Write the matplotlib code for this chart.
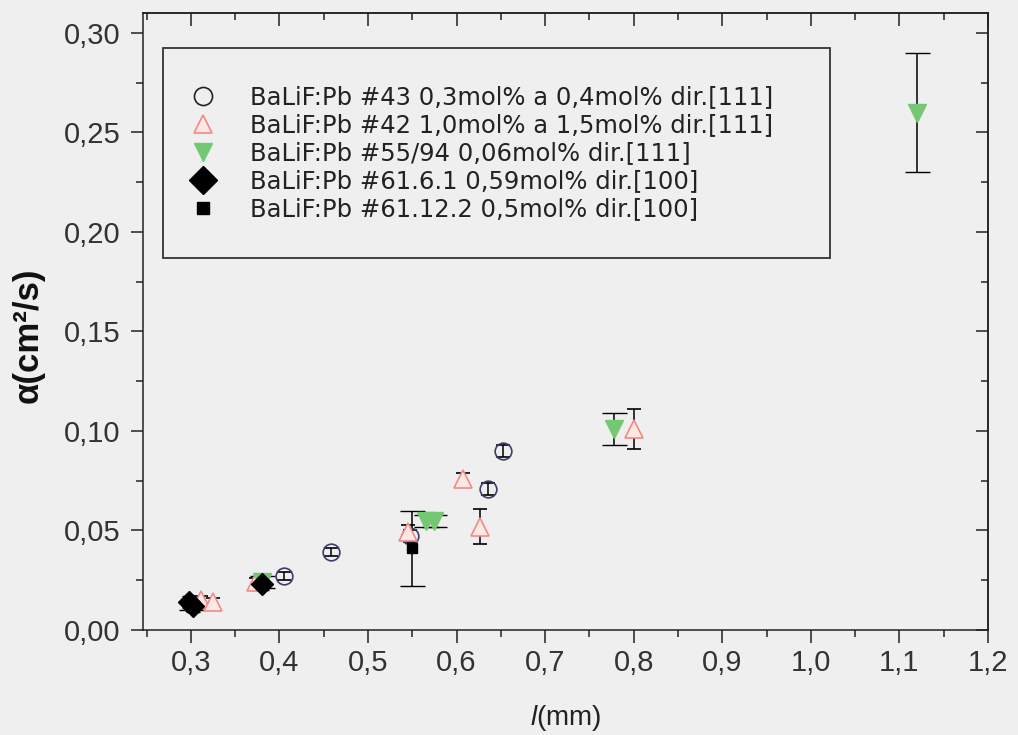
import numpy as np
import matplotlib
matplotlib.use("Agg")
from matplotlib import pyplot as plt
from matplotlib.lines import Line2D
from matplotlib.patches import Rectangle
from matplotlib.ticker import MultipleLocator, FuncFormatter

# Series: thickness l (mm) vs diffusivity alpha (cm2/s)
labels = ["BaLiF:Pb #43 0,3mol% a 0,4mol% dir.[111]",
          "BaLiF:Pb #42 1,0mol% a 1,5mol% dir.[111]",
          "BaLiF:Pb #55/94 0,06mol% dir.[111]",
          "BaLiF:Pb #61.6.1 0,59mol% dir.[100]",
          "BaLiF:Pb #61.12.2 0,5mol% dir.[100]"]

x43 = [0.300, 0.405, 0.458, 0.548, 0.635, 0.652]
y43 = [0.013, 0.027, 0.039, 0.047, 0.071, 0.090]
e43 = [0.002, 0.002, 0.002, 0.003, 0.003, 0.003]

x42 = [0.312, 0.325, 0.374, 0.545, 0.607, 0.627, 0.800]
y42 = [0.015, 0.014, 0.024, 0.049, 0.076, 0.052, 0.101]
e42 = [0.002, 0.002, 0.002, 0.004, 0.003, 0.009, 0.010]

x55 = [0.380, 0.565, 0.575, 0.778, 1.120]
y55 = [0.024, 0.055, 0.055, 0.101, 0.260]
e55 = [0.003, 0.003, 0.003, 0.008, 0.030]

x616 = [0.298, 0.303, 0.380]
y616 = [0.014, 0.012, 0.023]
e616 = [0.003, 0.003, 0.003]

x6112 = [0.300, 0.550]
y6112 = [0.012, 0.041]
e6112 = [0.002, 0.019]

bg = "#efefef"
ink = "#222222"
plt.rcParams["font.family"] = ["Liberation Sans", "DejaVu Sans"]
plt.rcParams["mathtext.fontset"] = "custom"
plt.rcParams["mathtext.it"] = "Liberation Sans:italic"
plt.rcParams["mathtext.rm"] = "Liberation Sans"

styles = [
    dict(marker="o", ms=12, mfc="none", mec="#3a3f6a", mew=1.2),
    dict(marker="^", ms=13, mfc="#fde8e4", mec="#f08a8a", mew=1.2),
    dict(marker="v", ms=13, mfc="#74c874", mec="#74c874", mew=1.0),
    dict(marker="D", ms=11, mfc="black", mec="black", mew=1.0),
    dict(marker="s", ms=7, mfc="black", mec="black", mew=1.0),
]
series = [(x43, y43, e43, 5), (x42, y42, e42, 5), (x55, y55, e55, 9),
          (x616, y616, e616, 5), (x6112, y6112, e6112, 9)]

fig = plt.figure(figsize=(10.18, 7.35), dpi=100, facecolor=bg)
ax = fig.add_axes([143 / 1018, 105 / 735, 845 / 1018, 617 / 735], facecolor=bg)

for (x, y, e, cap), st in zip(series, styles):
    ax.errorbar(x, y, yerr=e, ls="none", ecolor="black", elinewidth=1.1,
                capsize=cap, capthick=1.1, **st)

ax.set_xlim(0.246, 1.2)
ax.set_ylim(0, 0.31)


def setup_ticks(axis_x, axis_y):
    if axis_x is not None:
        axis_x.set_major_locator(MultipleLocator(0.1))
        axis_x.set_minor_locator(MultipleLocator(0.05))
    if axis_y is not None:
        axis_y.set_major_locator(MultipleLocator(0.05))
        axis_y.set_minor_locator(MultipleLocator(0.025))


setup_ticks(ax.xaxis, ax.yaxis)
ax.xaxis.set_major_formatter(FuncFormatter(lambda v, p: f"{v:.1f}".replace(".", ",")))
ax.yaxis.set_major_formatter(FuncFormatter(lambda v, p: f"{v:.2f}".replace(".", ",")))

for s in ax.spines.values():
    s.set_linewidth(1.1)
    s.set_color(ink)
ax.tick_params(which="both", direction="out", width=1.1, color=ink)
ax.tick_params(which="major", length=9, labelsize=21, labelcolor="#333333")
ax.tick_params(which="minor", length=5)
ax.tick_params(axis="x", which="major", pad=5)
ax.tick_params(axis="y", which="major", pad=7)

# inner ticks on top and right, like Origin
top = ax.secondary_xaxis("top")
right = ax.secondary_yaxis("right")
setup_ticks(top.xaxis, None)
setup_ticks(None, right.yaxis)
for sec in (top, right):
    sec.tick_params(which="both", direction="in", width=1.1, color=ink,
                    labeltop=False, labelright=False)
    sec.tick_params(which="major", length=9)
    sec.tick_params(which="minor", length=5)
    for s in sec.spines.values():
        s.set_linewidth(1.1)
        s.set_color(ink)

ax.set_xlabel("$\\mathit{l}$(mm)", fontsize=20, color=ink)
ax.set_ylabel("α(cm²/s)", fontsize=25, fontweight="bold", color="#111111")
ax.xaxis.set_label_coords(0.5, -0.118)
ax.yaxis.set_label_coords(-0.116, 0.478)

# legend box (Origin draws it with extra room under the entries)
ax.add_patch(Rectangle((0.0237, 0.6029), 0.7893, 0.3404, transform=ax.transAxes,
                       facecolor=bg, edgecolor="#333333", lw=1.3, zorder=5))
handles = [Line2D([], [], ls="none", **st) for st in styles]
handles[0].set_markeredgecolor(ink)
handles[0].set_markersize(13)
handles[3].set_markersize(14)
handles[4].set_markersize(9)
leg = ax.legend(handles, labels, loc="upper left", bbox_to_anchor=(0.0566, 0.8825),
                frameon=False, borderpad=0, borderaxespad=0, handlelength=1.0,
                handletextpad=1.43, labelspacing=0.165,
                prop=dict(family="DejaVu Sans", size=17.5))
leg.set_zorder(6)
for t in leg.get_texts():
    t.set_color(ink)

fig.savefig("out.png", dpi=100, facecolor=bg)
